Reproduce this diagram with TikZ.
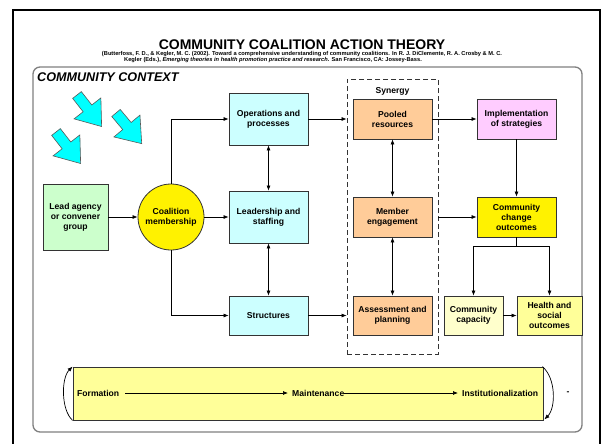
\documentclass[tikz,border=0pt]{standalone}
\usepackage{fontspec}
\setmainfont{Liberation Sans}
\usetikzlibrary{arrows.meta,shapes.geometric}

\definecolor{boxline}{HTML}{333333}
\definecolor{frameline}{HTML}{808080}
\definecolor{greenfill}{HTML}{CCFFCC}
\definecolor{cyanfill}{HTML}{CCFFFF}
\definecolor{orangefill}{HTML}{FFCC99}
\definecolor{pinkfill}{HTML}{FFCCFF}
\definecolor{paleyellow}{HTML}{FFFFCC}
\definecolor{lightyellow}{HTML}{FFFF99}
\definecolor{arrowcyan}{HTML}{00FFFF}

\newcommand\boxfont{\fontsize{8.6}{10}\selectfont\bfseries}
\newcommand\citefont{\fontsize{5.7}{6}\selectfont\bfseries}

\tikzset{
  box/.style={draw=boxline, line width=0.8pt, align=center, font=\boxfont, inner sep=1pt},
  wide/.style={box, minimum width=79pt},
  conn/.style={-{Latex[length=5pt,width=4pt]}, line width=0.7pt},
  twoway/.style={{Latex[length=5pt,width=4pt]}-{Latex[length=5pt,width=4pt]}, line width=0.7pt},
  blockarrow/.style={fill=arrowcyan, draw=gray!70!black, line width=0.6pt, line join=miter},
  phase/.style={font=\boxfont, inner sep=0pt, anchor=west},
}

\begin{document}
\begin{tikzpicture}[x=1pt,y=-1pt]
\useasboundingbox (0,0) rectangle (602,444);
\fill[white] (0,0) rectangle (602,444);

% outer frame and community context panel
\draw[line width=2pt] (13,10) rectangle (600,450);
\draw[frameline, line width=1.3pt, rounded corners=7pt] (33,67) rectangle (582,432);

% headings
\node[font=\fontsize{14}{16}\selectfont\bfseries] (title) at (302,44.5) {COMMUNITY COALITION ACTION THEORY};
\node[font=\citefont, inner sep=0pt] (cite1) at (302,54.5)
  {(Butterfoss, F. D., \& Kegler, M. C. (2002). Toward a comprehensive understanding of community coalitions. In R. J. DiClemente, R. A. Crosby \& M. C.};
\node[font=\citefont, anchor=west, inner sep=0pt] (cite2) at (124,60.5)
  {Kegler (Eds.), \textit{Emerging theories in health promotion practice and research}. San Francisco, CA: Jossey-Bass.};
\node[font=\fontsize{12.6}{14}\selectfont\bfseries\itshape, anchor=west, inner sep=0pt] (context) at (37,77) {COMMUNITY CONTEXT};

% outside influences
\foreach \px/\py/\ang in {77/95/-52, 116/113/-50, 56/132/-52}{
  \filldraw[blockarrow, shift={(\px,\py)}, rotate=\ang]
    (0,-5.5) -- (17,-5.5) -- (17,-17) -- (40,0) -- (17,17) -- (17,5.5) -- (0,5.5) -- cycle;
}

% synergy region
\node[draw=boxline, dashed, dash pattern=on 5pt off 3pt, line width=0.8pt,
      minimum width=91pt, minimum height=275pt] (syn) at (392.5,216.5) {};
\node[font=\boxfont, inner sep=0pt] (synlabel) at (392.5,91) {Synergy};

% nodes
\node[box, fill=greenfill, minimum width=65pt, minimum height=66pt] (lead) at (75.5,217) {Lead agency\\or convener\\group};
\node[box, circle, fill=yellow, minimum size=66pt] (coal) at (171,217) {Coalition\\membership};

\node[wide, fill=cyanfill, minimum height=52pt] (ops) at (268.5,119) {Operations and\\processes};
\node[wide, fill=cyanfill, minimum height=52pt] (lship) at (268.5,217) {Leadership and\\staffing};
\node[wide, fill=cyanfill, minimum height=39pt] (struct) at (268.5,315.5) {Structures};

\node[wide, fill=orangefill, minimum height=40pt] (pooled) at (392.5,119) {Pooled\\resources};
\node[wide, fill=orangefill, minimum height=40pt] (member) at (392.5,217) {Member\\engagement};
\node[wide, fill=orangefill, minimum height=39pt] (assess) at (392.5,315.5) {Assessment and\\planning};

\node[wide, fill=pinkfill, minimum height=40pt] (impl) at (516.5,119) {Implementation\\of strategies};
\node[wide, fill=yellow, minimum height=40pt] (change) at (516.5,217) {Community\\change\\outcomes};
\node[box, fill=paleyellow, minimum width=59pt, minimum height=39pt] (capacity) at (473.5,315.5) {Community\\capacity};
\node[box, fill=lightyellow, minimum width=65pt, minimum height=39pt] (health) at (549.5,315.5) {Health and\\social\\outcomes};

% connectors
\draw[conn] (lead) -- (coal);
\draw[conn] (coal) -- (lship);
\draw[conn] (coal.north) |- (ops.west);
\draw[conn] (coal.south) |- (struct.west);
\draw[twoway] (ops) -- (lship);
\draw[twoway] (lship) -- (struct);
\draw[conn] (ops.east) -- (ops.east -| syn.west);
\draw[conn] (struct.east) -- (struct.east -| syn.west);
\draw[twoway] (pooled) -- (member);
\draw[twoway] (member) -- (assess);
\draw[conn] (pooled.east) -- (impl.west);
\draw[conn] (member.east -| syn.east) -- (change.west);
\draw[conn] (impl) -- (change);
\draw[line width=0.7pt] (change.south) -- ++(0,9) coordinate (split);
\draw[conn] (split) -| (capacity.north);
\draw[conn] (split) -| (health.north);
\draw[conn] (capacity) -- (health);

% developmental stages
\node[draw=boxline, line width=0.8pt, fill=lightyellow, minimum width=470pt, minimum height=53pt] (bar) at (308,393.5) {};
\node[phase] (formation) at (77,393) {Formation};
\node[phase] (maint) at (292,393) {Maintenance};
\node[phase] (inst) at (462,393) {Institutionalization};
\draw[conn, shorten <=6pt, shorten >=4pt] (formation.east) -- (maint.west);
\draw[conn, shorten >=4pt] (maint.east) -- (inst.west);
\draw[conn] (bar.south west) .. controls (61,410) and (61,378) .. (bar.north west);
\draw[conn] ([xshift=-1pt]bar.north east) .. controls (556,378) and (556,408) .. ([xshift=1pt,yshift=1pt]bar.south east);
\node[font=\boxfont, inner sep=0pt] (dash) at (568,393) {-};
\end{tikzpicture}
\end{document}
